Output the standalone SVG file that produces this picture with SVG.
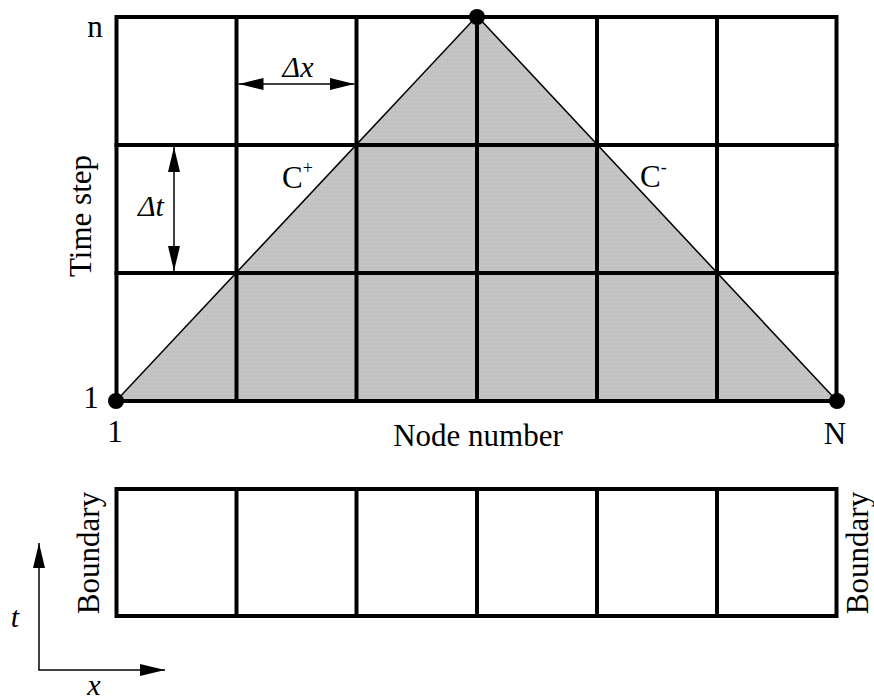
<svg xmlns="http://www.w3.org/2000/svg" width="874" height="700" viewBox="0 0 874 700">
  <style>
    .t { font-family: "Liberation Serif", "Times New Roman", serif; font-size: 31px; fill: #000; }
    .i { font-style: italic; font-size: 30px; }
    .grid { stroke: #000; stroke-width: 4; fill: none; stroke-linecap: square; }
    .thin { stroke: #000; stroke-width: 1.5; fill: none; }
  </style>
  <defs>
    <marker id="ah" viewBox="0 0 25 13" refX="25" refY="6.5" markerWidth="25" markerHeight="13" markerUnits="userSpaceOnUse" orient="auto-start-reverse">
      <path d="M0,0.5 L25,6.5 L0,12.5 Z" fill="#000"/>
    </marker>
    <pattern id="dots" width="4" height="4" patternUnits="userSpaceOnUse">
      <rect width="4" height="4" fill="#c2c2c2"/>
      <rect x="1" y="1" width="1" height="1" fill="#d4d4d4"/>
    </pattern>
  </defs>
  <rect width="874" height="700" fill="#fff"/>

  <g id="shaded-region">
    <polygon points="116,401 477,16 837,401" fill="url(#dots)"/>
  </g>

  <g id="grid">
    <rect class="grid" x="116.5" y="17" width="720" height="384"/>
    <line class="grid" x1="236.5" y1="17" x2="236.5" y2="401"/>
    <line class="grid" x1="356.5" y1="17" x2="356.5" y2="401"/>
    <line class="grid" x1="477" y1="17" x2="477" y2="401"/>
    <line class="grid" x1="597" y1="17" x2="597" y2="401"/>
    <line class="grid" x1="717" y1="17" x2="717" y2="401"/>
    <line class="grid" x1="116.5" y1="145" x2="836.5" y2="145"/>
    <line class="grid" x1="116.5" y1="273" x2="836.5" y2="273"/>
  </g>

  <g id="connectors">
    <line class="thin" x1="116" y1="401" x2="477" y2="16"/>
    <line class="thin" x1="477" y1="16" x2="837" y2="401"/>
    <line class="thin" x1="238.5" y1="84" x2="354.5" y2="84" marker-start="url(#ah)" marker-end="url(#ah)"/>
    <line class="thin" x1="174" y1="147" x2="174" y2="271" marker-start="url(#ah)" marker-end="url(#ah)"/>
    <line class="thin" x1="39" y1="670" x2="39" y2="543" marker-end="url(#ah)"/>
    <line class="thin" x1="38.25" y1="670" x2="165" y2="670" marker-end="url(#ah)"/>
  </g>

  <g id="node-1-1">
    <circle cx="116" cy="401" r="8" fill="#000"/>
  </g>
  <g id="node-top">
    <circle cx="477" cy="17" r="8" fill="#000"/>
  </g>
  <g id="node-N">
    <circle cx="837" cy="401" r="8" fill="#000"/>
  </g>

  <g id="boundary-strip">
    <rect class="grid" x="116.5" y="489" width="720" height="127"/>
    <line class="grid" x1="236.5" y1="489" x2="236.5" y2="616"/>
    <line class="grid" x1="356.5" y1="489" x2="356.5" y2="616"/>
    <line class="grid" x1="477" y1="489" x2="477" y2="616"/>
    <line class="grid" x1="597" y1="489" x2="597" y2="616"/>
    <line class="grid" x1="717" y1="489" x2="717" y2="616"/>
  </g>

  <g id="labels">
    <text class="t" x="95" y="37" text-anchor="middle">n</text>
    <text class="t" x="91" y="408" text-anchor="middle">1</text>
    <text class="t" x="115" y="442" text-anchor="middle">1</text>
    <text class="t" x="835" y="444" text-anchor="middle">N</text>
    <text class="t" x="478" y="446" text-anchor="middle">Node number</text>
    <text class="t" transform="translate(91,216) rotate(-90)" text-anchor="middle" font-size="32">Time step</text>
    <text class="t" transform="translate(99,553) rotate(-90)" text-anchor="middle">Boundary</text>
    <text class="t" transform="translate(868,553) rotate(-90)" text-anchor="middle">Boundary</text>
    <text class="t i" x="298" y="77" text-anchor="middle">Δx</text>
    <text class="t i" x="151" y="216" text-anchor="middle">Δt</text>
    <text class="t" x="282" y="188">C<tspan font-size="18" dy="-14">+</tspan></text>
    <text class="t" x="640" y="187">C<tspan font-size="18" dy="-14">-</tspan></text>
    <text class="t i" x="15" y="627" text-anchor="middle">t</text>
    <text class="t i" x="94" y="695" text-anchor="middle">x</text>
  </g>
</svg>
